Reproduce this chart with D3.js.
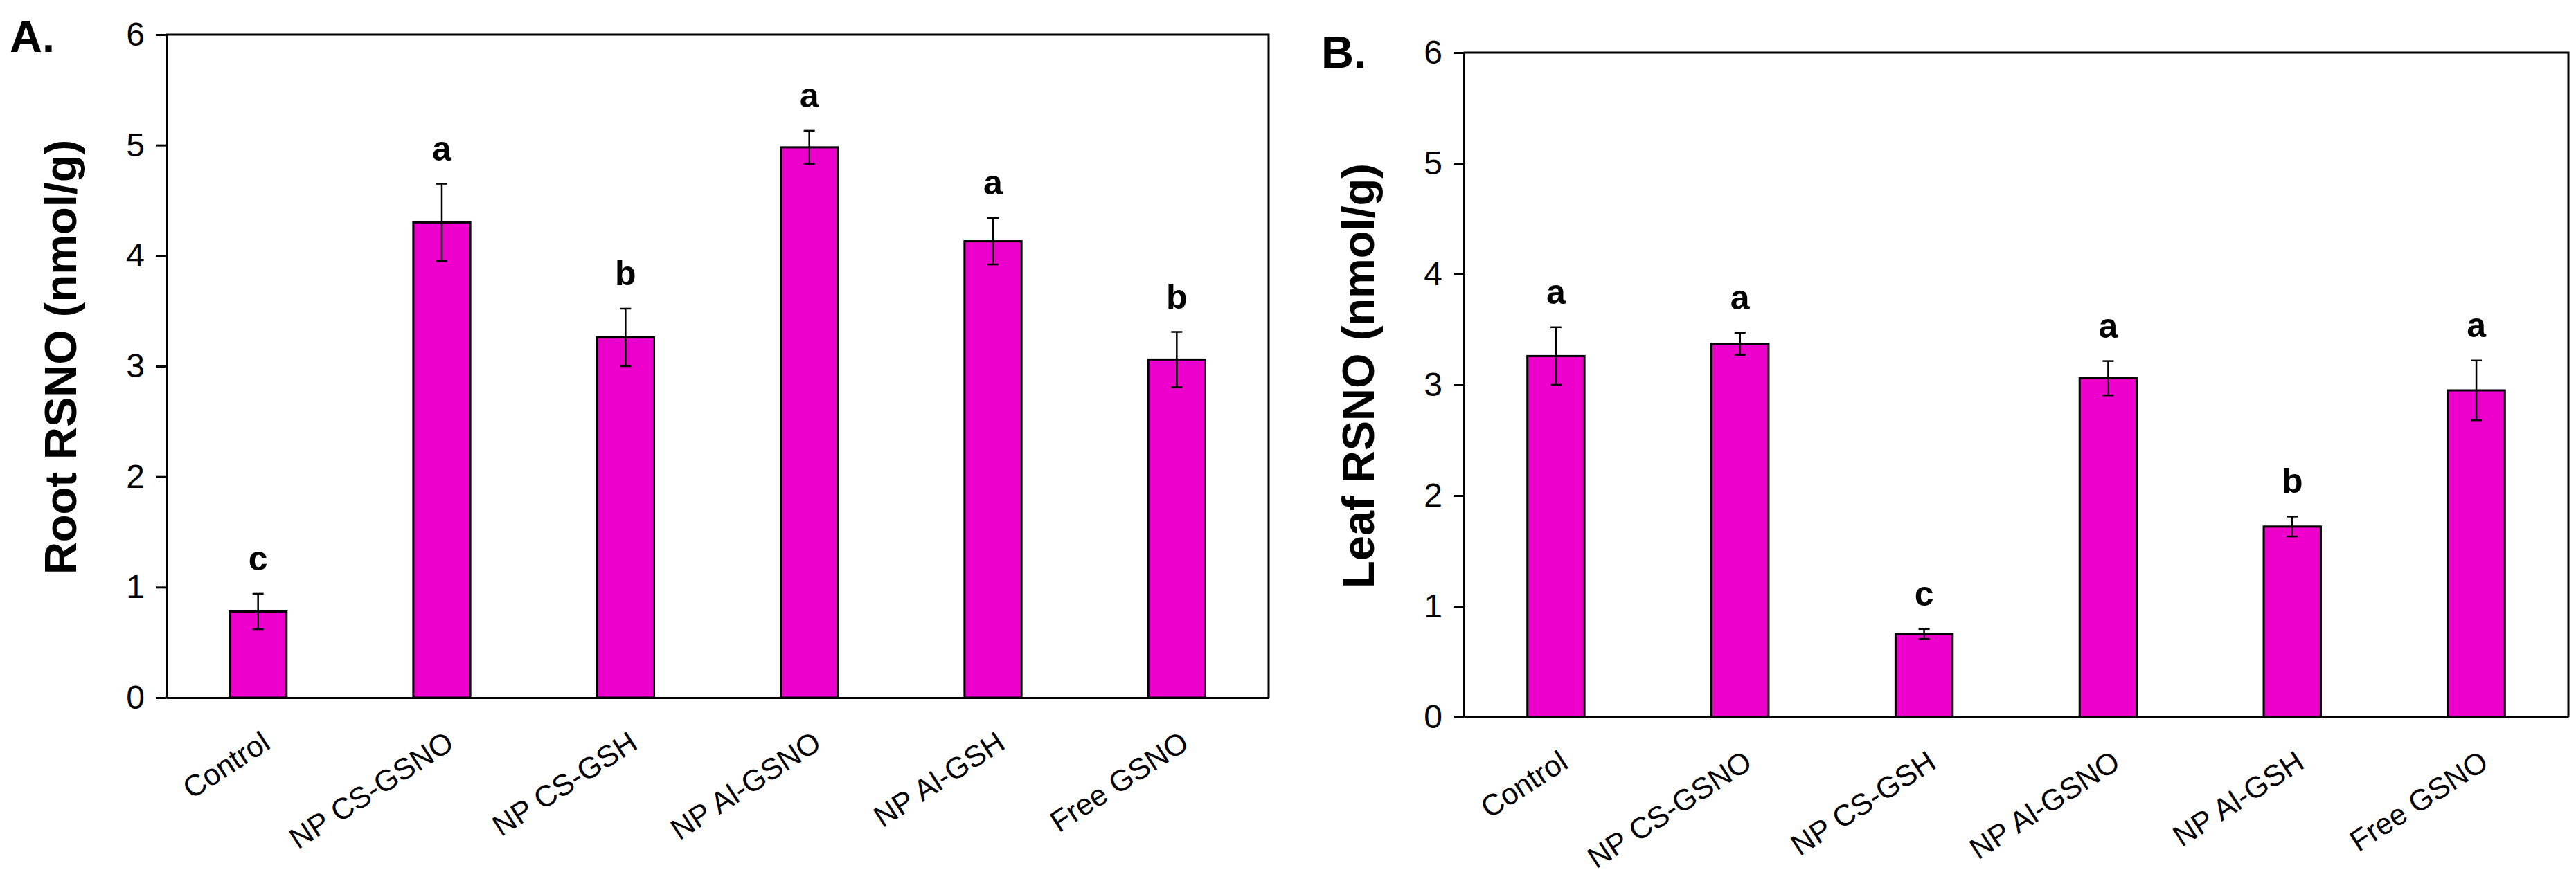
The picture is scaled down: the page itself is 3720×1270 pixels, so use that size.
<!DOCTYPE html>
<html>
<head>
<meta charset="utf-8">
<script src="https://cdn.jsdelivr.net/npm/d3@7"></script>
<style>
  body { margin: 0; background: #ffffff; }
</style>
</head>
<body>
<div id="chart"></div>
<script>
// categories (same for both panels)
const categories = ["Control", "NP CS-GSNO", "NP CS-GSH", "NP Al-GSNO", "NP Al-GSH", "Free GSNO"];

// panel A : root RSNO (nmol/g), mean and error
const rootMean = [0.78, 4.30, 3.26, 4.98, 4.13, 3.06];
const rootErr = [0.16, 0.35, 0.26, 0.15, 0.21, 0.25];
const rootLetters = ["c", "a", "b", "a", "a", "b"];

// panel B : leaf RSNO (nmol/g)
const leafMean = [3.26, 3.37, 0.75, 3.06, 1.72, 2.95];
const leafErr = [0.26, 0.10, 0.045, 0.155, 0.09, 0.27];
const leafLetters = ["a", "a", "c", "a", "b", "a"];

const yTicks = [0, 1, 2, 3, 4, 5, 6];

const width = 3720, height = 1270;
const barColor = "#ee00cc";
const font = "'Liberation Sans', Arial, sans-serif";

const svg = d3.select("#chart")
  .append("svg")
  .attr("width", width)
  .attr("height", height)
  .style("font-family", font)
  .style("background", "#fff");

function drawPanel(p) {
  const x = d3.scaleBand()
    .domain(categories)
    .range([p.left, p.right])
    .paddingInner(0.69)
    .paddingOuter(0.345);

  const y = d3.scaleLinear()
    .domain([0, 6])
    .range([p.bottom, p.top]);

  const g = svg.append("g");

  // barres
  g.selectAll("rect.bar")
    .data(categories)
    .join("rect")
    .attr("class", "bar")
    .attr("x", d => x(d))
    .attr("y", (d, i) => y(p.means[i]))
    .attr("width", x.bandwidth())
    .attr("height", (d, i) => y(0) - y(p.means[i]))
    .attr("fill", barColor)
    .attr("stroke", "#000")
    .attr("stroke-width", 3);

  // barres d'erreur
  const cx = d => x(d) + x.bandwidth() / 2;
  const err = g.append("g")
    .attr("stroke", "#000")
    .attr("stroke-width", 2.5);

  err.selectAll("line.v")
    .data(categories)
    .join("line")
    .attr("x1", cx).attr("x2", cx)
    .attr("y1", (d, i) => y(p.means[i] - p.errs[i]))
    .attr("y2", (d, i) => y(p.means[i] + p.errs[i]));

  [1, -1].forEach(s => {
    err.append("g").selectAll("line")
      .data(categories)
      .join("line")
      .attr("x1", d => cx(d) - 8).attr("x2", d => cx(d) + 8)
      .attr("y1", (d, i) => y(p.means[i] + s * p.errs[i]))
      .attr("y2", (d, i) => y(p.means[i] + s * p.errs[i]));
  });

  // lettres de significativite
  g.selectAll("text.letter")
    .data(categories)
    .join("text")
    .attr("class", "letter")
    .attr("x", cx)
    .attr("y", (d, i) => y(p.means[i] + p.errs[i]) - 34)
    .attr("text-anchor", "middle")
    .style("font-size", "50px")
    .style("font-weight", "bold")
    .text((d, i) => p.letters[i]);

  // axe y
  const yAxis = g.append("g")
    .attr("transform", "translate(" + p.left + ",0)")
    .call(d3.axisLeft(y).tickValues(yTicks).tickSize(15).tickSizeOuter(0).tickPadding(16).tickFormat(d3.format("d")));
  yAxis.attr("font-family", null).attr("font-size", null);
  yAxis.selectAll("text").style("font-size", "48px").attr("fill", "#000");
  yAxis.selectAll("line, path").attr("stroke", "#000").attr("stroke-width", 3);

  // axe x
  const xAxis = g.append("g")
    .attr("transform", "translate(0," + p.bottom + ")")
    .call(d3.axisBottom(x).tickSize(0).tickSizeOuter(0));
  xAxis.attr("font-family", null).attr("font-size", null);
  xAxis.select(".domain").attr("stroke", "#000").attr("stroke-width", 3);
  xAxis.selectAll("text")
    .attr("x", 0).attr("y", 0).attr("dy", null)
    .attr("text-anchor", "end")
    .attr("transform", "translate(20,72) rotate(-33)")
    .style("font-size", "43px")
    .attr("fill", "#000");

  // cadre haut et droite
  g.append("path")
    .attr("d", "M" + p.left + "," + y(6) + "H" + p.right + "V" + y(0))
    .attr("fill", "none")
    .attr("stroke", "#000")
    .attr("stroke-width", 3);

  // titre de l'axe y
  g.append("text")
    .attr("transform", "translate(" + (p.left - 130) + "," + (y(3) - 13) + ") rotate(-90)")
    .attr("text-anchor", "middle")
    .style("font-size", "65px")
    .style("font-weight", "bold")
    .text(p.title);

  // lettre du panneau
  g.append("text")
    .attr("x", p.labelX)
    .attr("y", p.labelY)
    .style("font-size", "65px")
    .style("font-weight", "bold")
    .text(p.label);
}

drawPanel({
  left: 240, right: 1832, top: 50, bottom: 1008,
  means: rootMean, errs: rootErr, letters: rootLetters,
  title: "Root RSNO (nmol/g)", label: "A.", labelX: 14, labelY: 75
});

drawPanel({
  left: 2114, right: 3709, top: 76, bottom: 1036,
  means: leafMean, errs: leafErr, letters: leafLetters,
  title: "Leaf RSNO (nmol/g)", label: "B.", labelX: 1908, labelY: 98
});
</script>
</body>
</html>
